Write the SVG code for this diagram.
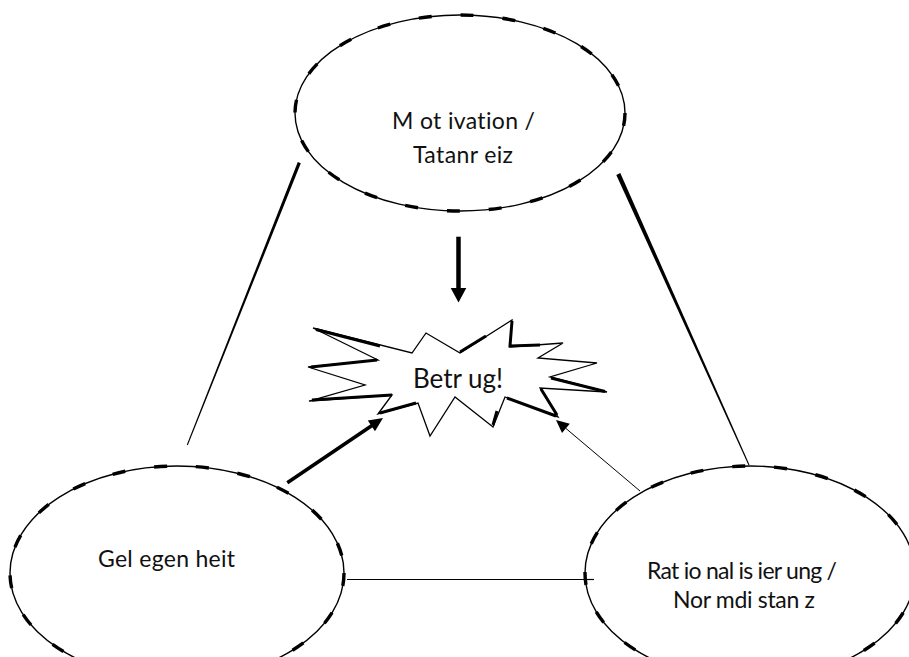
<svg xmlns="http://www.w3.org/2000/svg" width="909" height="657" viewBox="0 0 909 657">
  <style>
    .bg { fill: #ffffff; }
    .oval { fill: #ffffff; stroke: #000000; stroke-width: 1.4; }
    .oval-ink { fill: none; stroke: #000000; stroke-width: 3.4; stroke-dasharray: 13 29; }
    .label { font-family: Lato, "Open Sans", "Liberation Sans", sans-serif; font-size: 23px; fill: #111111; font-variant-ligatures: none; }
    .big { font-size: 26px; }
    .burst { fill: #ffffff; stroke: #000000; stroke-width: 1.3; stroke-linejoin: miter; }
    .burst-ink { fill: none; stroke: #000000; stroke-width: 3; stroke-linecap: butt; }
    .edge { stroke: #000000; fill: none; }
    .solid { fill: #000000; stroke: none; }
  </style>

  <rect class="bg" x="0" y="0" width="909" height="657"/>

  <!-- connectors -->
  <g id="connectors">
    <!-- tapered side lines of the triangle -->
    <polygon class="solid" points="300.8,163.3 297.8,162.1 186.8,444.8 187.8,445.2"/>
    <polygon class="solid" points="620.3,173.1 616.3,174.9 748.5,465.2 749.5,464.8"/>
    <!-- base line -->
    <line class="edge" x1="347" y1="579.5" x2="594" y2="579.5" stroke-width="1.2"/>
    <!-- Motivation -> Betrug -->
    <line class="edge" x1="458.5" y1="236.7" x2="458.5" y2="289" stroke-width="4.5"/>
    <polygon class="solid" points="450.7,288 466.3,288 458.5,302.5"/>
    <!-- Gelegenheit -> Betrug -->
    <line class="edge" x1="287.3" y1="482.7" x2="372" y2="425.5" stroke-width="3.6"/>
    <polygon class="solid" points="383,418 375,431.2 367.8,420.5"/>
    <!-- Rationalisierung -> Betrug -->
    <line class="edge" x1="640" y1="491" x2="566" y2="428.5" stroke-width="1"/>
    <polygon class="solid" points="556,420 569.8,423.8 562,433"/>
  </g>

  <!-- Motivation node -->
  <g id="motivation">
    <ellipse class="oval" cx="460" cy="113" rx="165" ry="98"/>
    <ellipse class="oval-ink" cx="460" cy="113" rx="165" ry="98"/>
    <text class="label" x="392" y="129" textLength="143" lengthAdjust="spacing">M ot ivation /</text>
    <text class="label" x="413" y="163" textLength="100" lengthAdjust="spacing">Tatanr eiz</text>
  </g>

  <!-- Betrug burst -->
  <g id="betrug">
    <polygon class="burst" points="313,328 412,353 426,333 460,353 512,320 510,347 563,343 538,358 597,363 550,377 607,392 540,388 558,417 505,397 493,427 455,397 430,436 418,403 378,414 392,395 309,401 365,385 308,367 378,360"/>
    <path class="burst-ink" d="M316,329.5 L380,346 M460,352 L486,336 M512,321 L510,346 L540,345 M551,378 L605,391.5 M541,389 L557,415 M507,398 L556,416 M312,400 L392,395 M380,413 L416,403 M311,367 L377,360 M493,425 L497,411"/>
    <text class="label big" x="413" y="388" textLength="90" lengthAdjust="spacing">Betr ug!</text>
  </g>

  <!-- Gelegenheit node -->
  <g id="gelegenheit">
    <ellipse class="oval" cx="177" cy="573" rx="167" ry="107"/>
    <ellipse class="oval-ink" cx="177" cy="573" rx="167" ry="107"/>
    <text class="label" x="98" y="567" textLength="137" lengthAdjust="spacing">Gel egen heit</text>
  </g>

  <!-- Rationalisierung node -->
  <g id="rationalisierung">
    <ellipse class="oval" cx="750" cy="573" rx="165" ry="107"/>
    <ellipse class="oval-ink" cx="750" cy="573" rx="165" ry="107"/>
    <line class="edge" x1="585" y1="579.5" x2="594" y2="579.5" stroke-width="1.2"/>
    <text class="label" x="647" y="579" textLength="190" lengthAdjust="spacing">Rat io nal is ier ung /</text>
    <text class="label" x="673" y="608" textLength="142" lengthAdjust="spacing">Nor mdi stan z</text>
  </g>
</svg>
